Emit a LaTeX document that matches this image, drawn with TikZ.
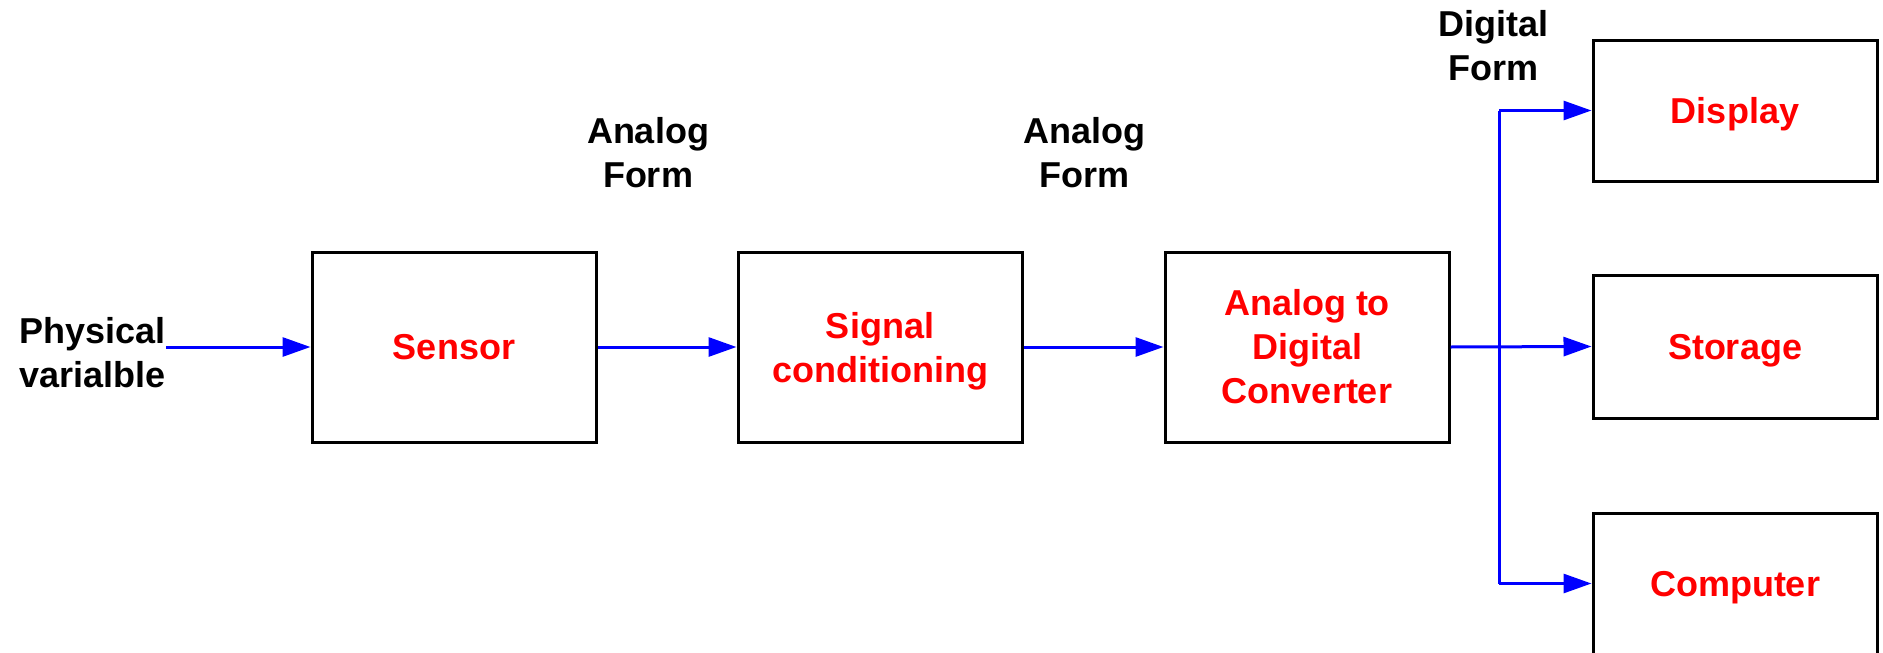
\documentclass[tikz,border=0pt]{standalone}
\usepackage{fontspec}
\setmainfont{Liberation Sans}
\usetikzlibrary{arrows.meta}
\begin{document}
\begin{tikzpicture}[x=1pt,y=-1pt,
  blk/.style={draw=black, line width=3pt, minimum width=284pt, text=red, align=center,
    font=\bfseries\fontsize{36}{44}\selectfont, inner sep=0pt},
  nodepth/.style={text depth=0pt},
  lbl/.style={text=black, align=center, font=\bfseries\fontsize{36}{44}\selectfont, inner sep=0pt},
  sig/.style={draw=blue, line width=3pt, -{Triangle[length=28pt,width=19pt]}},
  wire/.style={draw=blue, line width=3pt}]
\useasboundingbox (0,0) rectangle (1883,653);
\clip (0,0) rectangle (1883,653);
\node[blk, minimum height=190pt] (sensor) at (454,347) {Sensor};
\node[blk, nodepth, minimum height=190pt] (signal) at (880,347) {Signal\\conditioning};
\node[blk, minimum height=190pt] (adc) at (1307,347) {Analog to\\Digital\\Converter};
\node[blk, nodepth, minimum height=141pt] (display) at (1735,110.5) {Display};
\node[blk, nodepth, minimum height=143pt] (storage) at (1735,346.5) {Storage};
\node[blk, nodepth, minimum height=141pt] (computer) at (1735,583.5) {Computer};
\node[lbl, anchor=east] (phys) at (166,353) {Physical\\varialble};
\node[lbl] (af1) at (648,153) {Analog\\Form};
\node[lbl] (af2) at (1084,153) {Analog\\Form};
\node[lbl] (df) at (1493,46) {Digital\\Form};
\coordinate (br) at (1499,347);
\draw[sig] (phys.east |- sensor.west) -- (sensor.west);
\draw[sig] (sensor.east) -- (signal.west);
\draw[sig] (signal.east) -- (adc.west);
\draw[sig] (adc.east) -- (storage.west);
\draw[wire] (br |- display.west) -- (br |- computer.west);
\draw[sig] (br |- display.west) -- (display.west);
\draw[sig] (br |- computer.west) -- (computer.west);
\end{tikzpicture}
\end{document}
